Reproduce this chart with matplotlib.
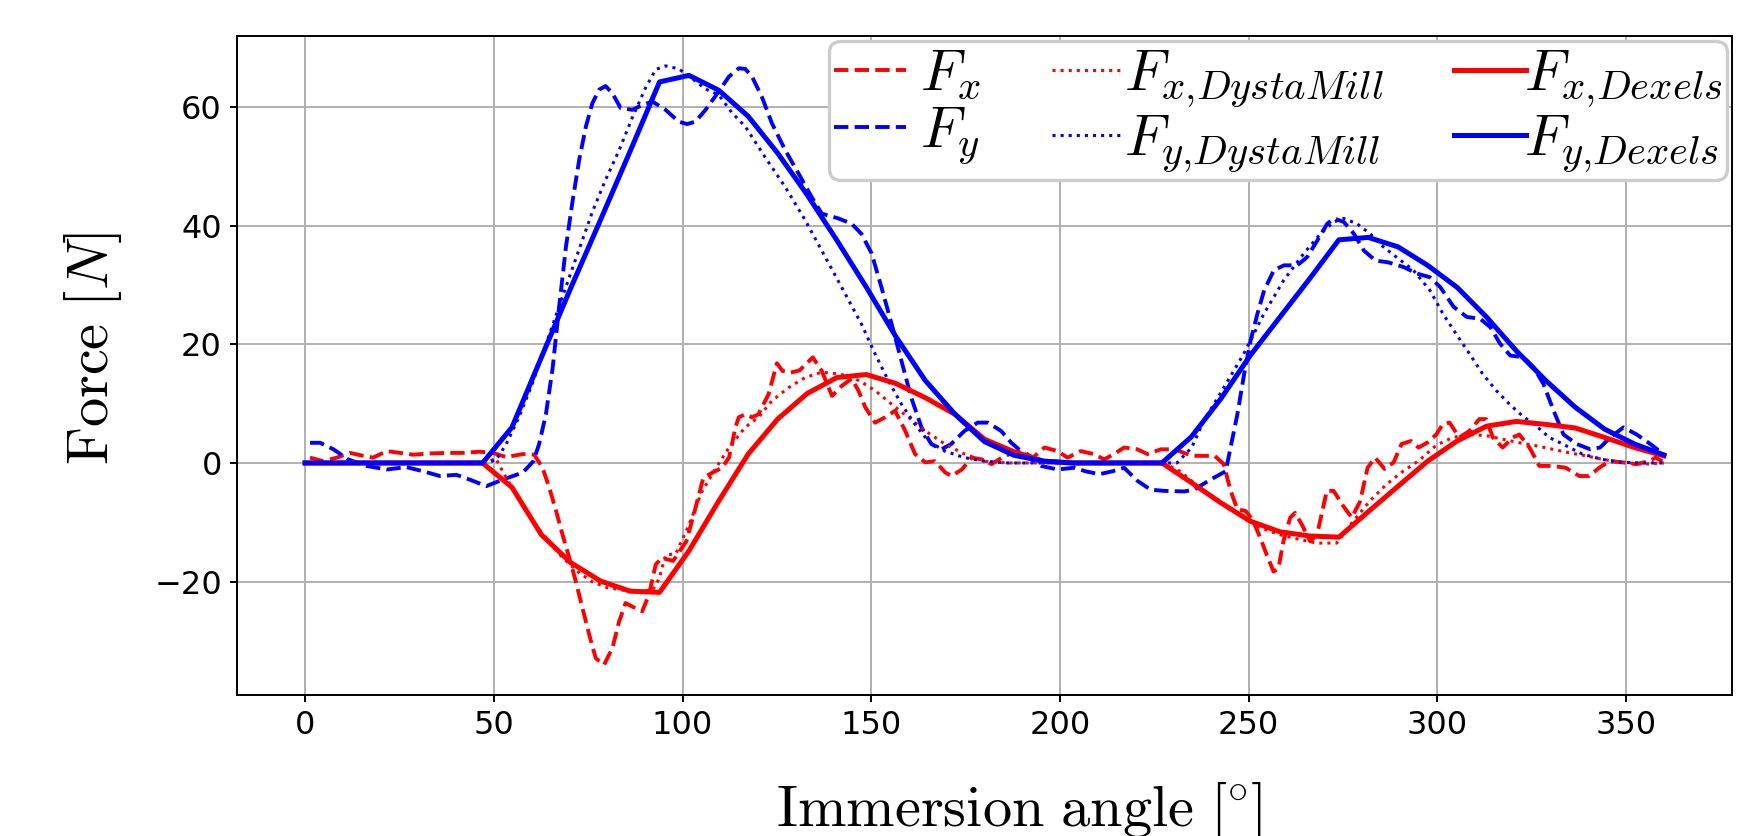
import matplotlib
matplotlib.use('Agg')
import matplotlib.pyplot as plt

plt.rcParams['mathtext.fontset'] = 'cm'

# Dexels model: sampled every 360/46 degrees
dexels_angle = [0.0, 7.8, 15.7, 23.5, 31.3, 39.1, 47.0, 54.8, 62.6, 70.4, 78.3, 86.1,
                93.9, 101.7, 109.6, 117.4, 125.2, 133.0, 140.9, 148.7, 156.5, 164.3,
                172.2, 180.0, 187.8, 195.7, 203.5, 211.3, 219.1, 227.0, 234.8, 242.6,
                250.4, 258.3, 266.1, 273.9, 281.7, 289.6, 297.4, 305.2, 313.0, 320.9,
                328.7, 336.5, 344.3, 352.2, 360.0]
fx_dexels = [0, 0, 0, 0, 0, 0, 0, -4.1, -12.1, -16.8, -19.9, -21.6,
             -21.8, -14.8, -6.4, 1.5, 7.4, 11.7, 14.4, 14.9, 13.4, 11.0,
             8.2, 4.0, 1.9, 0.3, 0, 0, 0, 0, -3.3, -6.7,
             -9.8, -11.6, -12.3, -12.5, -8.2, -3.9, 0.3, 3.7, 6.2, 7.0,
             6.5, 5.9, 4.3, 2.6, 1.2]
fy_dexels = [0, 0, 0, 0, 0, 0, 0, 6.0, 17.8, 29.5, 41.0, 52.5,
             64.2, 65.3, 62.8, 58.4, 52.2, 45.2, 37.5, 29.6, 21.3, 13.9,
             8.2, 3.6, 1.3, 0.3, 0, 0, 0, 0, 4.4, 10.8,
             18.1, 24.6, 31.0, 37.6, 38.0, 36.4, 33.3, 29.6, 24.6, 18.9,
             13.9, 9.4, 5.7, 3.2, 1.35]

# measured Fx
fx_angle = [1.3, 4.8, 8.4, 11.9, 15.4, 18.0, 21.6, 25.1, 28.6, 33.0, 37.4, 41.8, 46.2,
            49.7, 53.3, 57.7, 60.7, 62.9, 64.7, 66.5, 68.2, 70.0, 71.7, 73.5, 75.3,
            77.0, 79.2, 81.4, 83.2, 84.9, 87.6, 89.3, 91.1, 92.9, 94.5, 97.5, 101.0,
            103.0, 105.5, 108.0, 110.5, 112.3, 113.1, 114.0, 114.9, 116.6, 118.4, 120.1,
            122.8, 125.0, 126.5, 128.5, 131.0, 134.5, 136.9, 139.6, 142.2, 144.8, 146.6,
            148.4, 151.0, 153.7, 156.3, 159.0, 161.6, 164.3, 166.9, 169.6, 171.3, 174.0,
            176.6, 179.3, 181.9, 184.6, 187.3, 190.0, 192.8, 195.9, 199.4, 202.0, 205.5,
            209.0, 211.7, 214.3, 217.0, 220.5, 223.2, 226.7, 230.3, 235.0, 241.0, 243.4,
            245.2, 247.0, 249.2, 251.0, 253.0, 254.8, 256.6, 257.9, 259.2, 261.0, 262.3,
            264.1, 266.3, 268.1, 270.7, 272.5, 275.1, 277.3, 279.5, 281.5, 283.5, 286.0,
            288.4, 290.5, 293.0, 295.0, 297.5, 299.7, 301.4, 303.2, 305.8, 308.5, 311.1,
            312.9, 314.7, 317.3, 320.0, 321.7, 324.4, 327.0, 330.5, 334.0, 337.6, 340.2,
            342.9, 345.5, 349.0, 352.6, 356.1, 357.8, 359.6]
fx_meas = [0.9, 0.3, 0.9, 1.7, 1.2, 0.9, 2.0, 1.7, 1.4, 1.6, 1.7, 1.7, 1.9,
           1.7, 1.0, 1.5, 1.4, -0.8, -4.2, -8.1, -12.1, -16.0, -19.9, -24.5, -29.0,
           -32.9, -34.0, -31.2, -26.7, -23.6, -24.5, -25.0, -22.2, -17.1, -16.0, -16.5, -13.2,
           -8.6, -2.5, -1.6, -0.8, 0.9, 3.2, 6.0, 7.7, 8.2, 7.7, 8.2,
           11.6, 16.8, 15.5, 15.2, 15.6, 17.8, 15.5, 11.3, 13.0, 14.2, 12.2,
           9.4, 6.8, 7.7, 8.8, 5.4, 1.5, 0.1, 0.3, -1.6, -2.2, -1.1,
           0.9, 0.6, -0.2, 0.9, 1.7, 2.0, 0.9, 2.6, 2.0, 0.9, 2.0,
           1.5, 0.6, 1.5, 2.6, 2.3, 1.5, 2.3, 2.3, 1.2, 1.2, -0.2,
           -4.7, -7.8, -8.1, -9.5, -12.5, -15.5, -18.3, -17.7, -13.2, -9.2, -8.4,
           -10.4, -13.2, -12.1, -4.7, -4.7, -7.3, -9.2, -6.5, -0.8, 0.9, -1.0,
           0.1, 3.2, 3.7, 2.6, 3.5, 4.8, 6.5, 6.8, 4.3, 5.4, 7.4,
           7.4, 4.3, 2.6, 4.3, 4.8, 2.6, -0.5, -0.5, -0.8, -2.2, -2.2,
           -0.8, 0.3, 0.1, -0.2, 0.3, 0.9, 0.3]

# measured Fy
fy_angle = [1.3, 4.0, 7.5, 11.4, 16.3, 21.6, 26.8, 31.3, 35.7, 40.1, 43.6, 48.0, 52.4,
            57.7, 60.5, 62.0, 63.8, 65.6, 67.3, 69.1, 70.9, 72.6, 74.4, 76.1, 77.9,
            79.6, 81.4, 83.6, 86.7, 89.3, 92.0, 95.5, 99.0, 101.2, 103.4, 106.1, 109.6,
            112.3, 114.9, 116.6, 118.4, 121.0, 123.7, 127.2, 130.7, 134.2, 136.9, 141.3,
            144.8, 147.4, 150.1, 152.7, 155.4, 158.0, 160.6, 163.3, 165.9, 168.6, 171.2,
            174.7, 178.2, 180.9, 184.4, 187.1, 190.6, 195.0, 199.4, 203.8, 206.8, 210.4,
            213.9, 217.0, 220.5, 224.0, 227.6, 232.9, 235.5, 239.9, 243.9, 245.2, 247.0,
            248.8, 250.5, 252.3, 254.1, 256.7, 259.4, 262.9, 265.5, 268.2, 270.8, 272.6,
            275.2, 277.9, 280.5, 283.6, 287.0, 291.1, 294.6, 298.0, 300.8, 304.3, 307.8,
            311.3, 314.0, 316.6, 319.3, 322.8, 325.5, 328.1, 330.8, 333.4, 336.9, 340.5,
            343.1, 345.8, 349.3, 352.8, 356.4, 359.9]
fy_meas = [3.4, 3.4, 2.3, 0.6, -0.5, -1.1, -0.7, -1.4, -2.2, -2.0, -2.8, -3.9, -2.8,
           -1.6, 0.3, 3.2, 8.2, 16.1, 26.3, 36.4, 44.3, 51.0, 56.7, 60.6, 62.9,
           63.5, 62.3, 59.8, 59.5, 60.3, 60.9, 59.5, 57.5, 57.1, 57.5, 59.5, 62.6,
           65.1, 66.5, 66.4, 65.1, 61.7, 57.2, 52.7, 48.8, 44.8, 42.0, 41.2,
           40.3, 38.6, 35.3, 29.6, 23.4, 17.2, 11.0, 6.0, 3.2, 2.3, 3.2,
           5.4, 6.8, 6.8, 5.4, 3.4, 1.5, -0.5, -1.1, -0.8, -1.4, -1.9,
           -1.4, -0.8, -3.0, -4.5, -4.7, -4.8, -4.5, -2.8, -1.4, 2.6, 8.2,
           15.0, 20.6, 25.1, 29.1, 32.5, 33.3, 33.3, 34.7, 37.5, 40.3, 41.2,
           40.6, 38.6, 35.8, 34.1, 33.8, 33.0, 31.9, 31.3, 29.6, 26.3, 24.6,
           24.3, 22.9, 20.1, 18.1, 17.8, 16.1, 13.3, 8.8, 4.8, 3.2, 2.3,
           2.6, 4.3, 6.0, 4.8, 3.2, 1.5]

# DystaMill simulation
fxd_angle = [0, 48.0, 50.5, 52.4, 56.0, 60.0, 64.0, 68.0, 72.0, 76.0, 80.0, 84.0, 88.0,
             92.0, 93.8, 95.5, 98.2, 101.7, 105.0, 108.7, 112.3, 116.6, 120.1, 123.7,
             128.1, 132.5, 136.9, 141.3, 144.8, 147.5, 151.0, 155.4, 159.8, 164.3, 169.5,
             174.7, 180.0, 186.0, 227.4, 231.8, 237.1, 242.4, 247.7, 253.0, 258.3, 263.6,
             268.0, 273.3, 277.7, 282.1, 286.5, 290.9, 295.3, 299.7, 304.1, 308.5, 312.9,
             317.3, 321.8, 326.2, 330.6, 335.0, 339.4, 343.8, 349.1, 354.4, 360.0]
fx_dysta = [0, 0, 0.8, -1.5, -5.5, -9.5, -12.8, -15.8, -18.2, -20.0, -21.0, -21.4, -21.5,
            -21.5, -19.5, -15.5, -15.3, -10.4, -5.0, -1.0, 2.6, 6.0, 7.7, 10.5,
            12.7, 14.4, 15.3, 15.0, 14.5, 13.6, 12.2, 9.9, 7.7, 5.4, 3.2,
            1.5, 0.3, 0, 0, -1.4, -4.2, -6.4, -8.7, -10.9, -12.1, -12.9,
            -13.5, -13.5, -9.8, -6.4, -3.6, -1.4, 0.5, 3.0, 4.3, 4.8, 4.6,
            4.0, 3.4, 2.9, 2.3, 1.7, 1.2, 0.6, 0.1, -0.2, 0]
fyd_angle = [0, 48.0, 50.6, 53.3, 56.5, 60.0, 63.0, 66.0, 69.0, 72.6, 76.1, 79.6, 83.2,
             86.7, 90.2, 92.9, 95.5, 99.0, 102.5, 106.1, 109.6, 113.1, 116.6, 121.9,
             127.2, 132.5, 137.8, 143.1, 147.4, 151.0, 154.5, 158.0, 161.6, 165.1, 169.5,
             174.7, 180.0, 186.2, 231.0, 234.9, 238.1, 243.4, 248.7, 254.0, 259.3, 264.6,
             269.0, 272.5, 275.2, 278.7, 282.2, 285.5, 289.3, 293.6, 298.0, 301.5, 305.0,
             308.5, 312.0, 315.6, 319.1, 322.6, 326.1, 329.6, 333.2, 338.4, 343.7, 349.0,
             354.0, 360.0]
fy_dysta = [0, 0, 0.5, 3.2, 7.5, 13.0, 18.5, 24.0, 29.5, 36.0, 42.3, 47.7, 52.7,
            58.2, 63.2, 66.3, 66.9, 66.4, 64.8, 63.0, 62.0, 59.0, 56.7, 51.5,
            46.5, 40.9, 34.7, 28.5, 23.4, 18.4, 13.9, 9.9, 6.5, 3.7, 2.0,
            0.9, 0.3, 0, 0, 2.6, 7.1, 12.7, 18.4, 25.1, 30.8, 35.3,
            38.6, 40.6, 41.2, 40.3, 38.6, 36.5, 34.6, 32.5, 29.1, 25.1, 21.7,
            18.4, 15.0, 12.2, 9.9, 7.9, 6.3, 4.3, 3.2, 1.5, 0.6, 0.1,
            0, 0]

fig = plt.figure(figsize=(17.44, 8.36), dpi=100)
ax = fig.add_axes([0.136, 0.169, 0.857, 0.788])

ax.plot(fx_angle, fx_meas, 'r--', lw=2.8, label=r'$\;F_x$')
ax.plot(fy_angle, fy_meas, 'b--', lw=2.8, label=r'$\;F_y$')
ax.plot(fxd_angle, fx_dysta, 'r:', lw=2.2, label=r'$F_{x{,}DystaMill}$')
ax.plot(fyd_angle, fy_dysta, 'b:', lw=2.2, label=r'$F_{y{,}DystaMill}$')
ax.plot(dexels_angle, fx_dexels, 'r-', lw=3.6, label=r'$\hspace{-0.25}F_{x{,}Dexels}$')
ax.plot(dexels_angle, fy_dexels, 'b-', lw=3.6, label=r'$\hspace{-0.25}F_{y{,}Dexels}$')

ax.set_xticks([0, 50, 100, 150, 200, 250, 300, 350])
ax.set_yticks([-20, 0, 20, 40, 60])
ax.tick_params(labelsize=23, length=5, width=1.4, pad=6)
for s in ax.spines.values():
    s.set_linewidth(1.4)
ax.grid(True, color='#b0b0b0', linewidth=1.4)

ax.set_xlabel(r'$\mathrm{Immersion\ angle}\ [\!{}^\circ\!]$', fontsize=42)
ax.set_ylabel(r'$\mathrm{Force}\ [N]$', fontsize=42)
ax.xaxis.set_label_coords(0.523, -0.13)
ax.yaxis.set_label_coords(-0.076, 0.526)

leg = ax.legend(ncol=3, loc='upper right', fontsize=42, borderaxespad=0.08,
                borderpad=0.08, handlelength=1.24, handletextpad=0.0,
                columnspacing=1.2, labelspacing=0.0, framealpha=1,
                edgecolor='0.8')
leg.get_frame().set_linewidth(2.4)

fig.savefig('out.png', dpi=100)
